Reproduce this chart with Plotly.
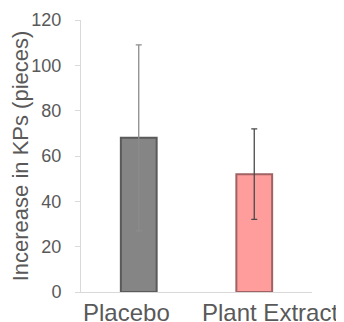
import plotly.graph_objects as go

categories = ["Placebo", "Plant Extract"]
means = [68, 52]
errors = [41, 20]
bar_colors = ["#858585", "#ff9c9c"]
edge_colors = ["#5a5a5a", "#a06262"]
err_colors = ["#8c8c8c", "#4a4a4a"]
y_ticks = [0, 20, 40, 60, 80, 100, 120]
label_shifts = [-12, 16]

fig = go.Figure()
for i, cat in enumerate(categories):
    fig.add_trace(go.Bar(
        x=[cat], y=[means[i]],
        width=0.31,
        marker=dict(color=bar_colors[i], line=dict(color=edge_colors[i], width=2)),
        error_y=dict(type="data", array=[errors[i]], visible=True,
                     color=err_colors[i], thickness=1.3, width=3),
        showlegend=False,
    ))
    fig.add_annotation(
        x=cat, y=0, xref="x", yref="y", text=cat, showarrow=False,
        yanchor="top", xanchor="center", yshift=-5, xshift=label_shifts[i],
        font=dict(size=24, color="#595959"),
    )

fig.update_layout(
    width=336, height=314,
    margin=dict(l=73, r=32, t=12, b=30, autoexpand=False),
    paper_bgcolor="white", plot_bgcolor="white",
    font=dict(family="Liberation Sans, Arial, sans-serif", color="#595959"),
    xaxis=dict(
        range=[-0.5, 1.5], showline=True, linecolor="#d9d9d9", linewidth=1,
        ticks="", showticklabels=False, showgrid=False, automargin=False,
    ),
    yaxis=dict(
        range=[0, 120], tickvals=y_ticks, showline=True, linecolor="#d9d9d9",
        linewidth=1, ticks="outside", ticklen=5, tickcolor="#d9d9d9",
        tickfont=dict(size=18, color="#595959"), showgrid=False,
        ticklabelstandoff=10, automargin=False,
        title=dict(text="Incerease in KPs (pieces)", font=dict(size=22, color="#595959"), standoff=8),
        zeroline=False,
    ),
)

fig.write_html("out.html")
